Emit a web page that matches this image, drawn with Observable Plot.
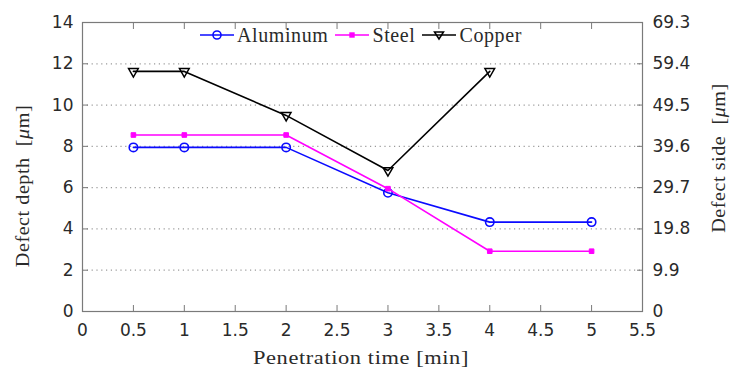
<!DOCTYPE html>
<html>
<head>
<meta charset="utf-8">
<script src="https://cdn.jsdelivr.net/npm/d3@7"></script>
<script src="https://cdn.jsdelivr.net/npm/@observablehq/plot@0.6"></script>
<style>
  html, body { margin: 0; padding: 0; background: #fff; }
  #wrap { position: relative; width: 731px; height: 374px; overflow: hidden; }
  .serif { font-family: "Liberation Serif", "Times New Roman", serif; color: #2a2a2a; }
  .title { position: absolute; white-space: nowrap; font-size: 19px; line-height: 1; letter-spacing: 0.5px; }
  .legend { position: absolute; left: 200px; top: 25px; display: flex; align-items: center; font-size: 20px; line-height: 1; white-space: nowrap; letter-spacing: 0.6px; }
  .legend .item { display: flex; align-items: center; margin-right: 7px; }
  .legend svg { display: block; margin-right: 3px; }
</style>
</head>
<body>
<div id="wrap"></div>
<script>
// ---- data ----
const time = [0.5, 1, 2, 3, 4, 5];
const aluminum = [7.95, 7.95, 7.95, 5.75, 4.33, 4.33];
const steel = [8.55, 8.55, 8.55, 5.95, 2.92, 2.92];
const copperTime = [0.5, 1, 2, 3, 4];
const copper = [11.63, 11.63, 9.5, 6.83, 11.63];

const xTicks = [0, 0.5, 1, 1.5, 2, 2.5, 3, 3.5, 4, 4.5, 5, 5.5];
const yTicks = [0, 2, 4, 6, 8, 10, 12, 14];
const gridTicks = [2, 4, 6, 8, 10, 12];
const rightTickLabels = ["0", "9.9", "19.8", "29.7", "39.6", "49.5", "59.4", "69.3"];

const seriesNames = ["Aluminum", "Steel", "Copper"];
const seriesColors = ["#0b0bff", "#ff00ff", "#000000"];

// ---- tables ----
const alRows = time.map((t, i) => ({t, v: aluminum[i]}));
const stRows = time.map((t, i) => ({t, v: steel[i]}));
const cuRows = copperTime.map((t, i) => ({t, v: copper[i]}));

const frameGray = "#7a7a7a";

const chart = Plot.plot({
  width: 731,
  height: 374,
  marginLeft: 82,
  marginRight: 89,
  marginTop: 22,
  marginBottom: 63,
  style: {fontFamily: "'DejaVu Sans', Arial, sans-serif", fontSize: "17px", color: "#2a2a2a", background: "#fff", overflow: "visible"},
  x: {domain: [0, 5.5]},
  y: {domain: [0, 14]},
  marks: [
    Plot.ruleY(gridTicks, {stroke: "#9a9a9a", strokeWidth: 1.2, strokeDasharray: "1.2,3.6"}),
    // inward ticks (shifted inside the frame)
    Plot.axisX(xTicks, {anchor: "bottom", tickSize: 6, dy: -6, tickFormat: () => "", label: null, stroke: frameGray}),
    Plot.axisX(xTicks, {anchor: "top", tickSize: 6, dy: 6, tickFormat: () => "", label: null, stroke: frameGray}),
    Plot.axisY(yTicks, {anchor: "left", tickSize: 6, dx: 6, tickFormat: () => "", label: null, stroke: frameGray}),
    Plot.axisY(yTicks, {anchor: "right", tickSize: 6, dx: -6, tickFormat: () => "", label: null, stroke: frameGray}),
    // labels
    Plot.axisX(xTicks, {anchor: "bottom", tickSize: 0, tickPadding: 12, tickFormat: d => String(d), label: null}),
    Plot.axisY(yTicks, {anchor: "left", tickSize: 0, tickPadding: 9, tickFormat: d => String(d), label: null}),
    Plot.axisY(yTicks, {anchor: "right", tickSize: 0, tickPadding: 10, tickFormat: (d, i) => rightTickLabels[i], label: null}),
    Plot.frame({stroke: frameGray, strokeWidth: 1.2}),
    // series
    Plot.line(alRows, {x: "t", y: "v", stroke: seriesColors[0], strokeWidth: 1.6}),
    Plot.dot(alRows, {x: "t", y: "v", stroke: seriesColors[0], fill: "none", r: 4.2, strokeWidth: 1.6}),
    Plot.line(stRows, {x: "t", y: "v", stroke: seriesColors[1], strokeWidth: 1.6}),
    Plot.dot(stRows, {x: "t", y: "v", fill: seriesColors[1], stroke: seriesColors[1], symbol: "square", r: 2.6, strokeWidth: 1}),
    Plot.line(cuRows, {x: "t", y: "v", stroke: seriesColors[2], strokeWidth: 1.6}),
    Plot.dot(cuRows, {x: "t", y: "v", stroke: seriesColors[2], fill: "none", symbol: "triangle", rotate: 180, r: 3.6, strokeWidth: 1.5})
  ]
});

const wrap = document.getElementById("wrap");
wrap.appendChild(chart);

// legend
const legend = document.createElement("div");
legend.className = "legend serif";
const markerSvg = [
  `<circle cx="17" cy="8" r="4" fill="none" stroke="${seriesColors[0]}" stroke-width="1.6"/>`,
  `<rect x="14.3" y="5.3" width="5.4" height="5.4" fill="${seriesColors[1]}"/>`,
  `<path d="M12.5,5 L21.5,5 L17,12 Z" fill="none" stroke="${seriesColors[2]}" stroke-width="1.5"/>`
];
legend.innerHTML = seriesNames.map((n, i) =>
  `<div class="item"><svg width="34" height="16"><line x1="0" y1="8" x2="34" y2="8" stroke="${seriesColors[i]}" stroke-width="1.6"/>${markerSvg[i]}</svg><span>${n}</span></div>`
).join("");
wrap.appendChild(legend);

// axis titles
function addTitle(html, x, y, rot, sx) {
  const d = document.createElement("div");
  d.className = "title serif";
  d.innerHTML = html;
  d.style.left = x + "px";
  d.style.top = y + "px";
  d.style.transform = `translate(-50%,-50%) rotate(${rot}deg) scaleX(${sx})`;
  wrap.appendChild(d);
}
addTitle("Penetration time [min]", 361, 357, 0, 1.18);
addTitle("Defect depth&nbsp;&nbsp;[<i>μ</i>m]", 22, 186, -90, 1.06);
addTitle("Defect side&nbsp;&nbsp;[<i>μ</i>m]", 718, 158, -90, 1.06);
</script>
</body>
</html>
